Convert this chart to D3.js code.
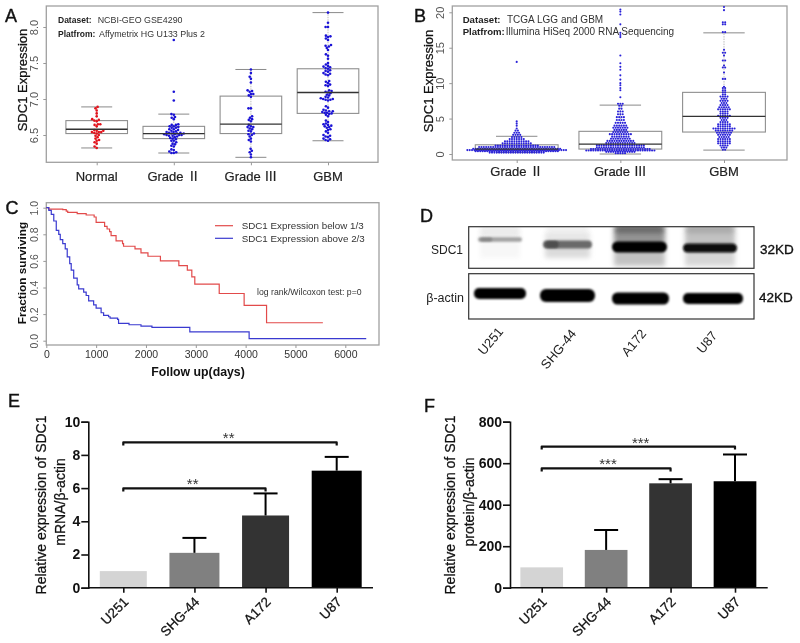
<!DOCTYPE html>
<html><head><meta charset="utf-8">
<script src="https://cdnjs.cloudflare.com/ajax/libs/d3/7.8.5/d3.min.js"></script>
<style>html,body{margin:0;padding:0;background:#fff}svg{display:block;filter:blur(0.35px)}text{font-family:"Liberation Sans","Noto Sans CJK SC",sans-serif}</style>
</head><body><svg id="c" width="800" height="643"></svg>
<script>
// ---- Panel A data
const catsA = ["Normal","Grade Ⅱ","Grade Ⅲ","GBM"];
const ticksA = [6.5,7,7.5,8];
const normalVals = [6.89,6.87,6.84,6.80,6.76,6.72,6.71,6.70,6.69,6.65,6.65,6.64,6.62,6.57,6.56,6.56,6.54,6.54,6.54,6.53,6.52,6.50,6.49,6.47,6.45,6.43,6.42,6.40,6.38,6.34,6.32];
const grade2Vals = [7.82,7.10,6.98,6.79,6.78,6.75,6.74,6.72,6.65,6.64,6.64,6.62,6.62,6.61,6.60,6.60,6.58,6.58,6.57,6.56,6.55,6.54,6.54,6.53,6.53,6.52,6.52,6.52,6.51,6.51,6.50,6.50,6.50,6.49,6.49,6.48,6.47,6.46,6.45,6.44,6.42,6.42,6.40,6.38,6.37,6.35,6.34,6.30,6.29,6.27,6.26,6.25,6.25];
const grade3Vals = [7.41,7.36,7.31,7.28,7.23,7.12,7.11,7.10,7.07,7.07,7.05,7.03,6.87,6.87,6.76,6.74,6.72,6.71,6.69,6.64,6.62,6.61,6.61,6.59,6.58,6.56,6.55,6.52,6.51,6.50,6.48,6.45,6.43,6.41,6.31,6.28,6.26,6.23,6.19];
const gbmVals = [8.20,8.06,8.00,8.00,7.88,7.87,7.86,7.84,7.82,7.75,7.74,7.73,7.71,7.68,7.62,7.60,7.56,7.50,7.48,7.46,7.45,7.44,7.43,7.42,7.40,7.39,7.38,7.36,7.35,7.34,7.33,7.25,7.24,7.22,7.20,7.19,7.18,7.12,7.11,7.10,7.09,7.08,7.06,7.05,7.03,7.02,7.01,7.00,7.00,6.99,6.99,6.98,6.90,6.88,6.85,6.84,6.83,6.83,6.82,6.81,6.81,6.80,6.79,6.78,6.76,6.70,6.68,6.66,6.65,6.64,6.63,6.62,6.61,6.60,6.58,6.57,6.55,6.53,6.50,6.49,6.48,6.47,6.45,6.44,6.43,6.42];
// [whiskerLow, q1, median, q3, whiskerHigh]
const boxNormal = [6.32,6.52,6.58,6.70,6.89];
const boxGrade2 = [6.25,6.45,6.52,6.62,6.79];
const boxGrade3 = [6.19,6.52,6.65,7.04,7.41];
const boxGBM = [6.42,6.80,7.09,7.42,8.20];

// ---- Panel B data: [value, number of dots at that level]
const catsB = ["Grade Ⅱ","Grade Ⅲ","GBM"];
const ticksB = [0,5,10,15,20];
const lggG2Rows = [[0.2,24],[0.38,36],[0.55,43],[0.75,38],[0.98,33],[1.2,19],[1.5,13],[1.8,11],[2.1,7],[2.4,5],[2.7,4],[3.0,3],[3.3,2],[3.6,1],[4.0,1],[4.3,1],[4.6,1],[13,1]];
const lggG3Rows = [[0.1,5],[0.3,13],[0.5,30],[0.7,26],[0.95,21],[1.25,21],[1.55,13],[1.85,12],[2.15,9],[2.45,8],[2.8,10],[3.1,7],[3.4,6],[3.7,7],[4.0,6],[4.4,5],[4.8,4],[5.2,4],[5.6,3],[6.0,3],[6.4,2],[6.8,2],[7.1,3],[8.0,1],[9.0,1],[9.3,1],[9.7,1],[10,1],[10.5,1],[11.1,1],[11.9,1],[12.3,1],[12.8,1],[13.9,1],[16.5,1],[16.8,1],[17.1,1],[18.3,1],[19.7,1],[20.1,1],[20.4,1]];
const tcgaGbmRows = [[0.6,2],[0.9,3],[1.2,4],[1.5,6],[1.8,6],[2.1,6],[2.4,5],[2.7,6],[3.0,7],[3.3,8],[3.6,10],[3.9,6],[4.2,6],[4.5,4],[4.8,3],[5.1,4],[5.4,6],[5.7,4],[6.0,4],[6.3,6],[6.6,5],[6.9,4],[7.2,3],[7.5,4],[7.8,3],[8.1,4],[8.4,2],[8.7,2],[9.0,2],[9.3,2],[9.5,1],[10.6,2],[11.5,1],[12.2,2],[12.5,1],[13.2,2],[13.9,1],[14.3,2],[14.7,1],[17.2,2],[18.3,2],[18.6,2],[20.3,1],[20.8,1]];
const boxB2 = [0.2,0.5,0.7,1.3,2.5];
const boxB3 = [0.0,0.7,1.4,3.2,6.9];
const boxB4 = [0.55,3.1,5.3,8.7,17.1];

// ---- Panel C data: [day, fraction]
const ticksCx = [0,1000,2000,3000,4000,5000,6000];
const ticksCy = [0,0.2,0.4,0.6,0.8,1];
const survLow = [[0,1],[50,.99],[330,.985],[400,.975],[430,.965],[620,.955],[800,.945],[960,.93],[1000,.89],[1170,.86],[1220,.84],[1270,.82],[1300,.79],[1400,.75],[1530,.73],[1550,.71],[1780,.69],[1900,.66],[2040,.635],[2290,.60],[2660,.565],[2830,.53],[2920,.48],[2980,.425],[3470,.355],[3970,.265],[4420,.135],[5550,.135]];
const survHigh = [[0,1],[50,.98],[100,.95],[150,.90],[200,.83],[250,.80],[280,.76],[330,.73],[380,.69],[420,.63],[470,.58],[500,.53],[550,.47],[620,.42],[650,.39],[750,.365],[800,.34],[850,.30],[950,.27],[1000,.245],[1100,.21],[1150,.19],[1250,.18],[1280,.17],[1430,.16],[1450,.13],[1660,.12],[1900,.11],[2120,.10],[2880,.067],[4070,.015],[6420,.015]];

// ---- Panels D/E/F data
const lanes = ["U251","SHG-44","A172","U87"];
const sdc1Band = [0.36,0.58,1,0.97];
const sdc1HazeBelow = [0.03,0.14,0.24,0.16];
const sdc1HazeAbove = [0.1,0.14,0.6,0.34];
const actinBand = [1,1,1,1];
const mrnaMean = [1.0,2.1,4.35,7.05];
const mrnaTop = [null,3.0,5.68,7.88];
const proteinMean = [98,182,503,513];
const proteinTop = [null,278,523,642];
const barGrey = ["#d4d4d4","#808080","#333333","#000000"];
const ticksE = [0,2,4,6,8,10];
const ticksF = [0,200,400,600,800];

const svg = d3.select("#c");
const defs = svg.append("defs");
[["b3",2.6],["b1",1.1]].forEach(([id,s])=>{
  defs.append("filter").attr("id",id).attr("x","-30%").attr("y","-80%").attr("width","160%").attr("height","260%")
   .append("feGaussianBlur").attr("stdDeviation",s);
});
const text=(x,y,s,o={})=>{const t=svg.append("text").attr("x",x).attr("y",y)
  .attr("font-size",o.size||12).attr("fill",o.fill||"#111").attr("font-weight",o.weight||"normal").attr("text-anchor",o.anchor||"start");
  String(s).split(/([ⅡⅢ])/).forEach((p,i)=>{ if(!p)return; const sp=t.append("tspan").text(p); if(i%2)sp.attr("style",'font-family:"Noto Sans CJK SC"');});
  if(o.rot!=null)t.attr("transform",`rotate(${o.rot} ${x} ${y})`);
  if(o.sw)t.attr("stroke",o.fill||"#111").attr("stroke-width",o.sw);
  return t;};

// swarm layout for the sparse panel: nearest free offset
function dodge(vals,y,d){
  const placed=[];
  vals.slice().sort((a,b)=>a-b).forEach(v=>{
    const py=y(v);let off=0,sign=1,k=0;
    while(placed.some(p=>(p.x-off)**2+(p.y-py)**2<d*d-1e-6)){k++;sign=-sign;off=sign*Math.ceil(k/2)*0.3;}
    placed.push({x:off,y:py});
  });
  return placed;
}
// centred rows for the dense panel
const rowsLayout=(rows,y,d)=>rows.flatMap(([v,n])=>d3.range(n).map(i=>({x:(i-(n-1)/2)*d,y:y(v)})));

function boxPanel(o){
  const g=svg.append("g");
  g.append("rect").attr("x",o.x0).attr("y",o.y0).attr("width",o.x1-o.x0).attr("height",o.y1-o.y0).attr("fill","none").attr("stroke","#a0a0a0").attr("stroke-width",1.3);
  const ax=g.append("g").attr("transform",`translate(${o.x0},0)`).call(d3.axisLeft(o.y).tickValues(o.ticks).tickSize(3).tickFormat(o.fmt));
  ax.select(".domain").remove();ax.selectAll("line").attr("stroke","#999");
  ax.selectAll("text").attr("font-size",11).attr("fill","#555").attr("font-family",null).attr("text-anchor","middle").attr("dy",0).attr("x",0).attr("y",0).attr("transform",`translate(${-o.tl},0) rotate(-90)`);
  const bx=g.append("g").attr("transform",`translate(0,${o.y1})`).call(d3.axisBottom(o.x).tickSize(3).tickFormat(""));
  bx.select(".domain").remove();bx.selectAll("line").attr("stroke","#999");
  o.cats.forEach((c,i)=>{
    const cx=o.x(c),[lo,q1,m,q3,hi]=o.boxes[i];
    g.append("line").attr("x1",cx).attr("x2",cx).attr("y1",o.y(lo)).attr("y2",o.y(hi)).attr("stroke","#bbb").attr("stroke-dasharray","1.5 1");
    [lo,hi].forEach(v=>g.append("line").attr("x1",cx-o.cap).attr("x2",cx+o.cap).attr("y1",o.y(v)).attr("y2",o.y(v)).attr("stroke","#8a8a8a").attr("stroke-width",1));
    g.append("rect").attr("x",cx-o.hw).attr("width",2*o.hw).attr("y",o.y(q3)).attr("height",o.y(q1)-o.y(q3)).attr("fill","none").attr("stroke","#8f8f8f").attr("stroke-width",1.1);
    g.selectAll(null).data(o.layout(i)).join("circle").attr("cx",p=>cx+p.x).attr("cy",p=>Math.max(p.y,o.y0+1)).attr("r",o.r).attr("fill",o.colors[i]);
    g.append("line").attr("x1",cx-o.hw).attr("x2",cx+o.hw).attr("y1",o.y(m)).attr("y2",o.y(m)).attr("stroke","#333").attr("stroke-width",1.3);
    text(cx,o.ly,c,{size:13,anchor:"middle",fill:"#222",sw:.2});
  });
}
// Panel A
const yA=d3.scaleLinear().domain([6.5,8]).range([135,27]);
const xA=d3.scalePoint().domain(catsA).range([96.7,328]);
const valsA=[normalVals,grade2Vals,grade3Vals,gbmVals];
boxPanel({x0:46.3,x1:378,y0:6,y1:162.3,y:yA,x:xA,ticks:ticksA,fmt:d3.format(".1f"),tl:8,cats:catsA,
  boxes:[boxNormal,boxGrade2,boxGrade3,boxGBM],layout:i=>dodge(valsA[i],yA,2.4),colors:["#e3121b","#1a12d6","#1a12d6","#1a12d6"],cap:15.5,hw:30.8,r:1.3,ly:181});
text(27,80,"SDC1 Expression",{size:13,rot:-90,anchor:"middle",sw:.25});
// Panel B
const yB=d3.scaleLinear().domain([0,20]).range([154,12.3]);
const xB=d3.scalePoint().domain(catsB).range([516.7,724]);
const rowsB=[lggG2Rows,lggG3Rows,tcgaGbmRows];
boxPanel({x0:452.3,x1:787,y0:6,y1:160,y:yB,x:xB,ticks:ticksB,fmt:d3.format("d"),tl:8,cats:catsB,
  boxes:[boxB2,boxB3,boxB4],layout:i=>rowsLayout(rowsB[i],yB,2.35),colors:["#2a22d8","#2a22d8","#2a22d8"],cap:20.7,hw:41.4,r:1.05,ly:176});
text(433,81,"SDC1 Expression",{size:13,rot:-90,anchor:"middle",sw:.25});
[[58,23,"Dataset:",97.7,"NCBI-GEO GSE4290",8.5,8.9],[58,36.5,"Platfrom:",99,"Affymetrix HG U133 Plus 2",8.5,8.9],[462.7,22.7,"Dataset:",507,"TCGA LGG and GBM",9.6,10],[462.7,34.5,"Platfrom:",505.7,"Illumina HiSeq 2000 RNA Sequencing",9.6,10]].forEach(([x,y,a,x2,b,s1,s2])=>{
  text(x,y,a,{size:s1,weight:"bold",fill:"#222"});text(x2,y,b,{size:s2,fill:"#333"});
});
// Panel C
const xC=d3.scaleLinear().domain([0,6000]).range([46.3,345.3]);
const yC=d3.scaleLinear().domain([0,1]).range([340.7,207.7]);
svg.append("rect").attr("x",46.3).attr("y",202.7).attr("width",332.7).attr("height",142.3).attr("fill","none").attr("stroke","#a0a0a0").attr("stroke-width",1.3);
const cy=svg.append("g").attr("transform","translate(46.3,0)").call(d3.axisLeft(yC).tickValues(ticksCy).tickSize(3).tickFormat(d3.format(".1f")));
cy.select(".domain").remove();cy.selectAll("line").attr("stroke","#999");
cy.selectAll("text").attr("font-size",10.5).attr("fill","#555").attr("font-family",null).attr("text-anchor","middle").attr("dy",0).attr("x",0).attr("y",0).attr("transform","translate(-8,0) rotate(-90)");
const cx=svg.append("g").attr("transform","translate(0,345)").call(d3.axisBottom(xC).tickValues(ticksCx).tickSize(3).tickFormat(d3.format("d")));
cx.select(".domain").remove();cx.selectAll("line").attr("stroke","#999");
cx.selectAll("text").attr("font-size",10.5).attr("fill","#333").attr("font-family",null).attr("y",6);
const step=d3.line().x(d=>xC(d[0])).y(d=>yC(d[1])).curve(d3.curveStepAfter);
svg.append("path").attr("d",step(survLow)).attr("fill","none").attr("stroke","#e24a4a").attr("stroke-width",1.2);
svg.append("path").attr("d",step(survHigh)).attr("fill","none").attr("stroke","#3a3ad0").attr("stroke-width",1.2);
[[225.7,"#e24a4a","SDC1 Expression below 1/3"],[238.3,"#3a3ad0","SDC1 Expression above 2/3"]].forEach(([y,c,s])=>{
  svg.append("line").attr("x1",215).attr("x2",233).attr("y1",y).attr("y2",y).attr("stroke",c).attr("stroke-width",1.2);
  text(241.7,y+3.5,s,{size:9.8,fill:"#333"});
});
text(257,295,"log rank/Wilcoxon test: p=0",{size:8.7,fill:"#333"});
text(198,376,"Follow up(days)",{size:12.3,weight:"bold",anchor:"middle"});
text(26,273,"Fraction surviving",{size:11.8,weight:"bold",rot:-90,anchor:"middle"});
// Panel D
const blotTop=svg.append("g"),blotBot=svg.append("g");
const grey=a=>d3.interpolateRgb("#ffffff","#000000")(a);
const sdcGeom=[[478,522,239.5,4.5],[543,592,244.5,8],[612,667,247,11],[683,737,248,9]];
const actGeom=[[474,526,293.5,11],[540,595,295.5,13],[612,669,298.5,12],[683,743,298.5,11]];
defs.append("clipPath").attr("id","ct").append("rect").attr("x",469).attr("y",227).attr("width",285).attr("height",41);
const gT=blotTop.append("g").attr("clip-path","url(#ct)");
lanes.forEach((l,i)=>{
  const [a,b,y,h]=sdcGeom[i];
  gT.append("rect").attr("x",a+2).attr("width",b-a-4).attr("y",y).attr("height",268-y-(i<2?10:2)).attr("fill",grey(sdc1HazeBelow[i])).attr("filter","url(#b3)");
  gT.append("rect").attr("x",a+2).attr("width",b-a-4).attr("y",i<2?y-12:226).attr("height",i<2?12:y-226).attr("fill",grey(sdc1HazeAbove[i]*.7)).attr("filter","url(#b3)");
  gT.append("rect").attr("x",a+4).attr("width",b-a-8).attr("y",226).attr("height",7).attr("fill",grey(sdc1HazeAbove[i])).attr("filter","url(#b3)").attr("opacity",i<2?0.4:1);
  gT.append("rect").attr("x",a).attr("width",b-a).attr("y",y-h/2).attr("height",h).attr("rx",h/2).attr("fill",grey(sdc1Band[i])).attr("filter","url(#b1)");
  if(i<2)gT.append("rect").attr("x",a+2).attr("width",(b-a)*.28).attr("y",y-h/2+.5).attr("height",h-1).attr("rx",h/2).attr("fill",grey(sdc1Band[i]+.12)).attr("filter","url(#b1)");
});
lanes.forEach((l,i)=>{
  const [a,b,y,h]=actGeom[i];
  blotBot.append("rect").attr("x",a).attr("width",b-a).attr("y",y-h/2).attr("height",h).attr("rx",h/2.2).attr("fill",grey(actinBand[i])).attr("filter","url(#b1)");
});
[[226.7,41.6],[273.7,45.3]].forEach(([y,h])=>svg.append("rect").attr("x",468.7).attr("y",y).attr("width",285.3).attr("height",h).attr("fill","none").attr("stroke","#333").attr("stroke-width",1.2));
text(463,254,"SDC1",{size:12,anchor:"end",fill:"#222"});
text(464,302,"β-actin",{size:12.5,anchor:"end",fill:"#222"});
text(760,254,"32KD",{size:13.5,sw:.35});
text(759,302,"42KD",{size:13.5,sw:.35});
[[504,332],[577,334],[647,334],[718,336]].forEach(([x,y],i)=>text(x,y,lanes[i],{size:13,anchor:"end",rot:-50,fill:"#222"}));
// Panels E, F
function barPanel(o){
  const g=svg.append("g");
  g.selectAll(null).data(lanes).join("rect").attr("x",(l,i)=>o.x(l)-o.bw[i]/2).attr("width",(l,i)=>o.bw[i]).attr("y",(l,i)=>o.y(o.mean[i])).attr("height",(l,i)=>o.y(0)-o.y(o.mean[i])).attr("fill",(l,i)=>barGrey[i]);
  lanes.forEach((l,i)=>{ if(o.top[i]==null)return;const c=o.x(l);
    g.append("line").attr("x1",c).attr("x2",c).attr("y1",o.y(o.mean[i])).attr("y2",o.y(o.top[i])).attr("stroke","#000").attr("stroke-width",2);
    g.append("line").attr("x1",c-12).attr("x2",c+12).attr("y1",o.y(o.top[i])).attr("y2",o.y(o.top[i])).attr("stroke","#000").attr("stroke-width",2);
  });
  const ay=g.append("g").attr("transform",`translate(${o.ax},0)`).call(d3.axisLeft(o.y).tickValues(o.ticks).tickSize(7).tickPadding(1));
  ay.select(".domain").attr("stroke-width",1.6).attr("stroke","#111");ay.selectAll("line").attr("stroke-width",1.6).attr("stroke","#111");
  ay.selectAll("text").attr("font-size",14).attr("font-weight","bold").attr("fill","#111").attr("font-family",null);
  const xa=g.append("g").attr("transform",`translate(0,${o.y(0)})`).call(d3.axisBottom(o.x).tickSize(5).tickFormat(""));
  xa.selectAll("line").attr("stroke-width",1.6).attr("stroke","#111");
  xa.select(".domain").remove();
  g.append("line").attr("x1",o.ax).attr("x2",o.axEnd).attr("y1",o.y(0)).attr("y2",o.y(0)).attr("stroke","#111").attr("stroke-width",1.6);
  lanes.forEach(l=>text(o.x(l)+6,o.y(0)+15,l,{size:13.5,anchor:"end",rot:-45,fill:"#111",sw:.25}));
  o.br.forEach(([a,b,v,st,sx])=>{
    const x1=o.x(lanes[a]),x2=o.x(lanes[b]),yy=o.y(v);
    g.append("path").attr("d",`M${x1},${yy+3}V${yy}H${x2}V${yy+3}`).attr("fill","none").attr("stroke","#111").attr("stroke-width",2.2).attr("stroke-linejoin","round");
    text(sx,yy+1,st,{size:15,anchor:"middle",fill:"#333"});
  });
  text(o.tx,505,"Relative expression of SDC1",{size:14,anchor:"middle",rot:-90,sw:.25});
  text(o.tx+18.5,502,o.t2,{size:14,anchor:"middle",rot:-90,sw:.25});
}
barPanel({x:d3.scalePoint().domain(lanes).range([123.3,336.7]),y:d3.scaleLinear().domain([0,10]).range([587.7,421.7]),mean:mrnaMean,top:mrnaTop,bw:[47,50,47,50],ax:88.3,axEnd:373,ticks:ticksE,
  br:[[0,3,8.75,"**",228.7],[0,2,5.98,"**",192.7]],tx:46,t2:"mRNA/β-actin"});
barPanel({x:d3.scalePoint().domain(lanes).range([541.7,735]),y:d3.scaleLinear().domain([0,800]).range([587.7,421.7]),mean:proteinMean,top:proteinTop,bw:[42.7,42.7,42.7,42.7],ax:510,axEnd:767.7,ticks:ticksF,
  br:[[0,3,680,"***",640.7],[0,2,575,"***",608]],tx:455,t2:"protein/β-actin"});
// Panel letters
[["A",5,22],["B",414,22],["C",5.5,214],["D",420,222],["E",8,407],["F",424,412]].forEach(([s,x,y])=>text(x,y,s,{size:18,sw:.4}));
</script></body></html>
